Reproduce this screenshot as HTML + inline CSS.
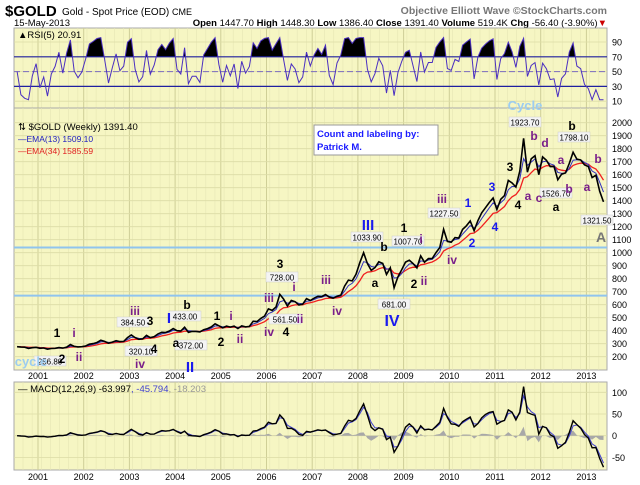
<!DOCTYPE html>
<html><head><meta charset="utf-8"><style>
body{margin:0;background:#fff;width:640px;height:485px;overflow:hidden;font-family:"Liberation Sans",sans-serif}
svg{display:block}
</style></head><body>
<svg id="chart" width="640" height="485" viewBox="0 0 640 485" xmlns="http://www.w3.org/2000/svg" font-family="Liberation Sans, sans-serif">
<text x="5" y="16" font-size="15" font-weight="bold" fill="#000">$GOLD</text>
<text x="62" y="15" font-size="10" fill="#000">Gold - Spot Price (EOD) <tspan font-size="9">CME</tspan></text>
<text x="607" y="14" font-size="10.5" font-weight="bold" fill="#777" text-anchor="end">Objective Elliott Wave ©StockCharts.com</text>
<text x="14" y="26" font-size="9.5" fill="#000">15-May-2013</text>
<text x="607" y="26" font-size="9.5" fill="#000" text-anchor="end"><tspan font-weight="bold">Open</tspan> 1447.70 <tspan font-weight="bold">High</tspan> 1448.30 <tspan font-weight="bold">Low</tspan> 1386.40 <tspan font-weight="bold">Close</tspan> 1391.40 <tspan font-weight="bold">Volume</tspan> 519.4K <tspan font-weight="bold">Chg</tspan> -56.40 (-3.90%)<tspan fill="#c00">▼</tspan></text>
<g id="g"></g>
</svg>
<script>
// monthly closes Jul 2000 .. May 2013
const prices=[277,274,273,264,269,272,
265,267,258,263,265,270,266,273,293,279,275,277,
282,296,301,309,326,318,304,312,323,316,318,347,
367,347,334,337,364,346,354,375,388,386,398,416,
400,397,427,388,395,395,391,408,416,429,453,438,
422,435,428,435,417,437,429,433,473,470,495,513,
568,556,582,680,643,590,632,623,598,604,646,632,
650,665,662,678,659,650,665,673,743,789,783,834,
923,1000,916,865,885,930,918,833,884,730,814,869,
928,942,916,883,975,927,955,955,1001,1040,1180,1087,
1081,1116,1113,1179,1207,1244,1169,1246,1307,1346,1386,1421,
1332,1411,1439,1556,1536,1505,1628,1880,1620,1722,1746,1600,
1737,1711,1662,1664,1561,1604,1614,1687,1773,1719,1713,1675,
1663,1578,1595,1472,1391];
const years=[2001,2002,2003,2004,2005,2006,2007,2008,2009,2010,2011,2012,2013];
const priceTicks=[200,300,400,500,600,700,800,900,1000,1100,1200,1300,1400,1500,1600,1700,1800,1900,2000];
const rsiTicks=[10,30,50,70,90];
const macdTicks=[-50,0,50,100];
const hLevels=[1040,670];

const NS="http://www.w3.org/2000/svg";
const G=document.getElementById('g');
function mk(tag,attrs,parent){const e=document.createElementNS(NS,tag);for(const k in attrs)e.setAttribute(k,attrs[k]);(parent||G).appendChild(e);return e;}
const L=14,R=607;
const xT=t=>38+(t-2001)*45.7;
const tI=i=>2000.5+(i+0.5)/12;
const yP=p=>252.7-(p-1000)*0.13;
const yR=v=>42+(90-v)*0.74;
const yM=v=>435.7-v*0.434;
function ema(a,al){const o=[];let e=a[0];for(const v of a){e=al*v+(1-al)*e;o.push(e);}return o;}
function path(vals,xf,yf){return vals.map((v,i)=>(i?'L':'M')+xf(i).toFixed(1)+' '+yf(v).toFixed(1)).join(' ');}

function panel(name,y0,y1,hticks,yf,labelFmt){
  const r=mk('rect',{x:L,y:y0,width:R-L,height:y1-y0,fill:'#f6f6c3',stroke:'#aaa','stroke-width':1});
  
  
  for(let x=L+9;x<R;x+=9.14){mk('line',{x1:x,x2:x,y1:y0,y2:y1,stroke:'#e6e6b4','stroke-width':0.6});}
  for(const t of years){const x=xT(t);mk('line',{x1:x,x2:x,y1:y0,y2:y1,stroke:'#cfcf97','stroke-width':1});}
  for(const v of hticks){const y=yf(v);mk('line',{x1:L,x2:R,y1:y,y2:y,stroke:'#dcdca6','stroke-width':0.8});
    const tx=mk('text',{x:R+5,y:y+3.5,'font-size':9,fill:'#000'});tx.textContent=labelFmt(v);
    
    }
}
function yearRow(y){for(const t of years){const tx=mk('text',{x:xT(t),y:y,'font-size':9,'text-anchor':'middle',fill:'#000'});tx.textContent=t;
  
  }}

// RSI panel
panel('rsi',28,108,rsiTicks,yR,v=>v);
const ch=prices.map((v,i)=>i?v-prices[i-1]:0);
const rsi=[];let ag=1,al=1;
ch.forEach((c,i)=>{const a=0.4;ag=a*Math.max(c,0)+(1-a)*ag;al=a*Math.max(-c,0)+(1-a)*al;rsi.push(Math.max(12,Math.min(96,100-100/(1+ag/(al||1e-6)))));});
mk('clipPath',{id:'c70'}).appendChild(document.createElementNS(NS,'rect'));
const cr=document.querySelector('#c70 rect');cr.setAttribute('x',L);cr.setAttribute('y',28);cr.setAttribute('width',R-L);cr.setAttribute('height',yR(70)-28);
const rf=mk('path',{d:path(rsi,i=>xT(tI(i)),yR)+` L${xT(tI(rsi.length-1))} ${yR(70)} L${xT(tI(0))} ${yR(70)} Z`,fill:'#000','clip-path':'url(#c70)'});


[70,30].forEach(v=>mk('line',{x1:L,x2:R,y1:yR(v),y2:yR(v),stroke:'#2020a0','stroke-width':1.2}));
mk('line',{x1:L,x2:R,y1:yR(50),y2:yR(50),stroke:'#7a6ac0','stroke-width':1,'stroke-dasharray':'6 3'});
const rl=mk('path',{d:path(rsi,i=>xT(tI(i)),yR),fill:'none',stroke:'#4a2fc0','stroke-width':1});


let t=mk('text',{x:18,y:38,'font-size':9.5,fill:'#000'});t.textContent='▲RSI(5) 20.91';



// Price panel
panel('price',108,370,priceTicks,yP,v=>v);
hLevels.forEach(p=>{const l=mk('line',{x1:L,x2:R,y1:yP(p),y2:yP(p),stroke:'#90c4ee','stroke-width':2});
  
  });
const e13=ema(prices,0.5),e34=ema(prices,2/9);
const l34=mk('path',{d:path(e34,i=>xT(tI(i)),yP),fill:'none',stroke:'#f02020','stroke-width':1.3});


const l13=mk('path',{d:path(e13,i=>xT(tI(i)),yP),fill:'none',stroke:'#3030c0','stroke-width':1});


const pl=mk('path',{d:path(prices,i=>xT(tI(i)),yP),fill:'none',stroke:'#000','stroke-width':1.6});


t=mk('text',{x:18,y:130,'font-size':9.5,fill:'#000'});t.textContent='⇅ $GOLD (Weekly) 1391.40';


t=mk('text',{x:18,y:142,'font-size':8.5,fill:'#2020c0'});t.textContent='—EMA(13) 1509.10';


t=mk('text',{x:18,y:154,'font-size':8.5,fill:'#e02020'});t.textContent='—EMA(34) 1585.59';


const bx=mk('rect',{x:314,y:125,width:124,height:30,fill:'#fff',stroke:'#999'});


t=mk('text',{x:317,y:137,'font-size':9.5,'font-weight':'bold',fill:'#1a1aff'});t.textContent='Count and labeling by:';


t=mk('text',{x:317,y:150,'font-size':9.5,'font-weight':'bold',fill:'#1a1aff'});t.textContent='Patrick M.';


// boxed price labels
[['1923.70',525,123],['1798.10',574,138],['1526.70',556,194],['1227.50',444,214],['1321.50',597,221],['1033.90',367,238],['1007.70',408,242],['728.00',282,278],['681.00',394,305],['433.00',185,317],['384.50',133,323],['561.50',285,320],['372.00',191,346],['320.10',141,352],['256.80',50,362]].forEach(([s,x,y])=>{
  mk('rect',{x:x-16,y:y-6,width:32,height:10,fill:'#f4f4f4',stroke:'#ccc','stroke-width':0.5});
  const tt=mk('text',{x:x,y:y+2.5,'font-size':8,'text-anchor':'middle',fill:'#000'});tt.textContent=s;
  
  });
// wave labels
const K='#000',P='#7a1f8a',B='#1a1aee',C='#9cccf0',Gy='#777';
[['Cycle',525,110,C,13],['b',572,130,K,12],['b',534,140,P,12],['d',545,147,P,12],['a',561,164,P,12],['b',598,163,P,12],['3',510,171,K,12],['3',492,191,B,12],['b',569,193,P,12],['a',587,191,P,12],['a',528,200,P,12],['c',539,202,P,12],['4',518,209,K,12],['a',556,211,K,12],['iii',442,203,P,12],['1',468,207,B,12],['4',495,231,B,12],['III',368,230,B,15],['1',404,232,K,12],['A',601,242,Gy,14],['b',384,251,K,12],['i',421,243,P,12],['2',472,247,B,12],['iv',452,264,P,12],['3',280,268,K,12],['i',294,291,P,12],['iii',326,284,P,12],['a',375,287,K,12],['2',414,288,K,12],['ii',424,285,P,12],['iii',269,302,P,12],['iv',337,315,P,12],['b',187,309,K,12],['iii',135,315,P,12],['I',169,323,B,15],['3',150,325,K,12],['1',217,320,K,12],['i',231,320,P,12],['ii',300,323,P,12],['IV',392,326,B,16],['1',57,337,K,12],['i',74,337,P,12],['iv',269,336,P,12],['4',286,336,K,12],['a',176,347,K,12],['2',221,346,K,12],['ii',240,343,P,12],['4',154,353,K,12],['ii',79,361,P,12],['cycle',31,366,C,13],['2',62,363,K,12],['iv',140,368,P,12],['II',190,372,B,15]].forEach(([s,x,y,c,f])=>{
  const tt=mk('text',{x:x,y:y,'font-size':f,'font-weight':'bold','text-anchor':'middle',fill:c});tt.textContent=s;
  
  });
yearRow(379);

// MACD panel
panel('macd',382,470,macdTicks,yM,v=>v);
const mac=ema(prices,2/3.8).map((v,i)=>v-ema(prices,2/7)[i]);
const sig=ema(mac,2/3);
const hist=mac.map((v,i)=>v-sig[i]);
const ha=mk('path',{d:path(hist,i=>xT(tI(i)),yM)+` L${xT(tI(hist.length-1))} ${yM(0)} L${xT(tI(0))} ${yM(0)} Z`,fill:'#a8a8a8',stroke:'none'});


const sl=mk('path',{d:path(sig,i=>xT(tI(i)),yM),fill:'none',stroke:'#4040d0','stroke-width':1});


const ml=mk('path',{d:path(mac,i=>xT(tI(i)),yM),fill:'none',stroke:'#000','stroke-width':1.4});


t=mk('text',{x:18,y:392,'font-size':9.5,fill:'#000'});t.innerHTML='— MACD(12,26,9) -63.997<tspan fill="#4040d0">, -45.794</tspan><tspan fill="#999">, -18.203</tspan>';


yearRow(480);
</script>
</body></html>
